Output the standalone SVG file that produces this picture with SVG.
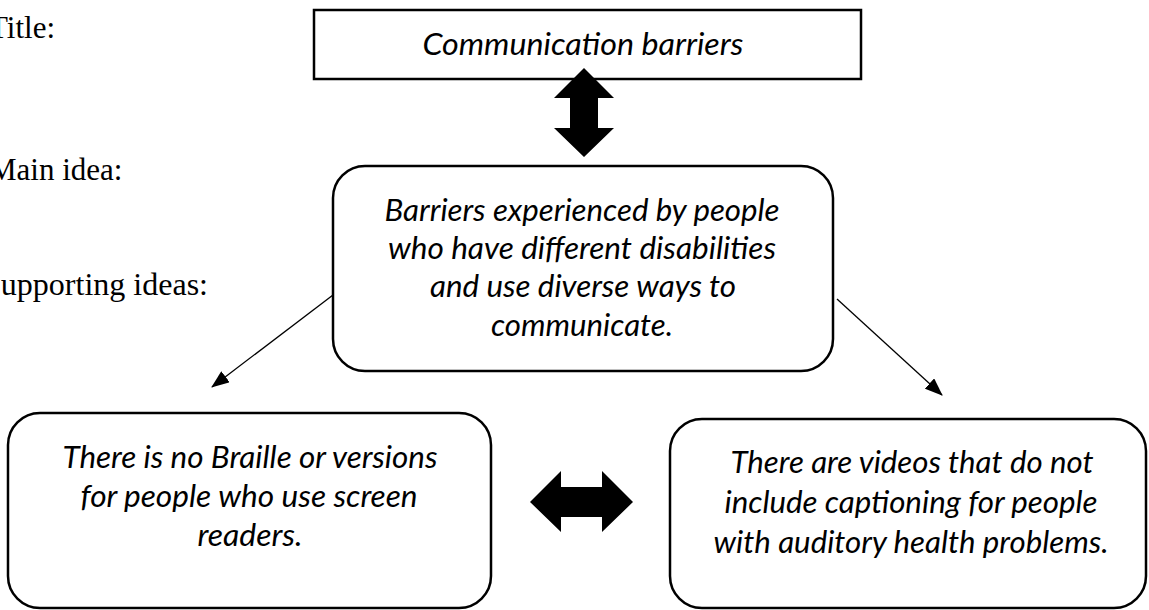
<svg xmlns="http://www.w3.org/2000/svg" width="1149" height="610" viewBox="0 0 1149 610">
  <style>
    .label { font-family: "Liberation Serif", "Times New Roman", serif; font-size: 31px; fill: #000; }
    .box { fill: #fff; stroke: #000; stroke-width: 2.5; }
    .txt { font-family: Lato, "Open Sans", sans-serif; font-style: italic; font-size: 31px; fill: #000; text-anchor: middle; }
    .conn { stroke: #000; stroke-width: 1.3; fill: none; }
    .block { fill: #000; stroke: none; }
  </style>
  <defs>
    <marker id="head" markerUnits="userSpaceOnUse" markerWidth="18" markerHeight="14" viewBox="0 0 18 14" refX="17" refY="7" orient="auto">
      <path d="M0,0 L18,7 L0,14 z" fill="#000"/>
    </marker>
  </defs>
  <rect width="1149" height="610" fill="#fff"/>

  <!-- row labels on the left margin -->
  <g id="labels">
    <text class="label" x="-11" y="38">Title:</text>
    <text class="label" x="-11" y="180">Main idea:</text>
    <text class="label" x="-17" y="295" textLength="225" lengthAdjust="spacingAndGlyphs">Supporting ideas:</text>
  </g>

  <g id="title">
    <rect class="box" x="314" y="10" width="547" height="69"/>
    <text class="txt" x="583" y="55" textLength="321" lengthAdjust="spacingAndGlyphs">Communication barriers</text>
  </g>

  <g id="main-idea">
    <rect class="box" x="333" y="166" width="500" height="205" rx="32" ry="32"/>
    <text class="txt" x="582" y="221" textLength="395" lengthAdjust="spacingAndGlyphs">Barriers experienced by people</text>
    <text class="txt" x="582" y="259" textLength="388" lengthAdjust="spacingAndGlyphs">who have different disabilities</text>
    <text class="txt" x="583" y="297" textLength="306" lengthAdjust="spacingAndGlyphs">and use diverse ways to</text>
    <text class="txt" x="582" y="336" textLength="182" lengthAdjust="spacingAndGlyphs">communicate.</text>
  </g>

  <g id="support-braille">
    <rect class="box" x="8" y="413" width="483" height="195" rx="32" ry="32"/>
    <text class="txt" x="250" y="468" textLength="375" lengthAdjust="spacingAndGlyphs">There is no Braille or versions</text>
    <text class="txt" x="249" y="507" textLength="337" lengthAdjust="spacingAndGlyphs">for people who use screen</text>
    <text class="txt" x="250" y="546" textLength="105" lengthAdjust="spacingAndGlyphs">readers.</text>
  </g>

  <g id="support-captions">
    <rect class="box" x="670" y="419" width="476" height="189" rx="32" ry="32"/>
    <text class="txt" x="912" y="473" textLength="363" lengthAdjust="spacingAndGlyphs">There are videos that do not</text>
    <text class="txt" x="911" y="513" textLength="373" lengthAdjust="spacingAndGlyphs">include captioning for people</text>
    <text class="txt" x="911" y="553" textLength="395" lengthAdjust="spacingAndGlyphs">with auditory health problems.</text>
  </g>

  <g id="connectors">
    <!-- thick two-way block arrows -->
    <polygon class="block" points="584,68 614,98 598,98 598,128 614,128 584,157 554,128 570,128 570,98 554,98"/>
    <polygon class="block" points="530,502 561,471 561,487 602,487 602,471 633,502 602,532 602,517 561,517 561,532"/>
    <!-- thin arrows from the main idea to the supporting ideas -->
    <line class="conn" x1="333" y1="295" x2="212" y2="387" marker-end="url(#head)"/>
    <line class="conn" x1="837" y1="299" x2="942" y2="395" marker-end="url(#head)"/>
  </g>
</svg>
